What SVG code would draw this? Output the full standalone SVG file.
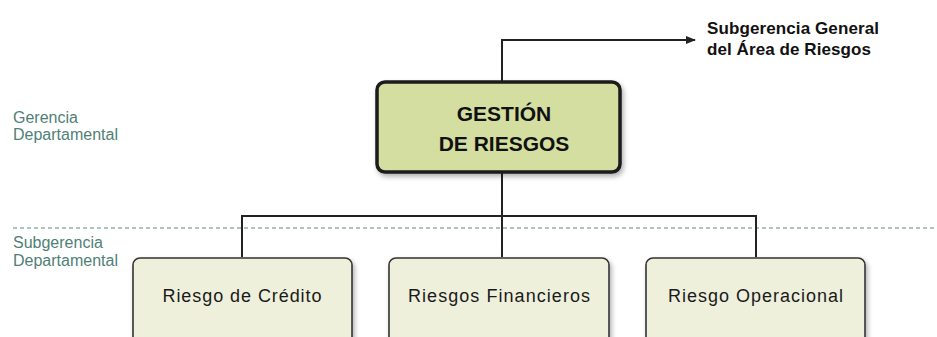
<svg xmlns="http://www.w3.org/2000/svg" width="937" height="337" viewBox="0 0 937 337">
<style>
.lvl{font-family:"Liberation Sans",Arial,sans-serif;font-size:16px;fill:#4f7f76}
.conn{fill:none;stroke:#222;stroke-width:2}
.child{fill:#eef0dc;stroke:#333;stroke-width:1.6}
.ctext{font-family:"Liberation Sans",Arial,sans-serif;font-size:18px;fill:#1a1a1a;text-anchor:middle}
.mtext{font-family:"Liberation Sans",Arial,sans-serif;font-size:21px;font-weight:bold;fill:#111;text-anchor:middle}
.stext{font-family:"Liberation Sans",Arial,sans-serif;font-size:17px;font-weight:bold;fill:#111}
</style>
<defs>
<filter id="sh" x="-10%" y="-10%" width="125%" height="130%">
<feDropShadow dx="2" dy="3" stdDeviation="2.5" flood-color="#000" flood-opacity="0.3"/>
</filter>
<marker id="arr" markerWidth="10" markerHeight="8" refX="9" refY="4" orient="auto" markerUnits="userSpaceOnUse">
<path d="M0,0 L10,4 L0,8 Z" fill="#222"/>
</marker>
</defs>
<rect width="937" height="337" fill="#fff"/>
<g id="levels">
<text class="lvl" x="13" y="123">Gerencia</text>
<text class="lvl" x="13" y="140">Departamental</text>
<line x1="13" y1="228" x2="937" y2="228" stroke="#5a8a80" stroke-width="1" stroke-dasharray="4,3"/>
<text class="lvl" x="13" y="248">Subgerencia</text>
<text class="lvl" x="13" y="266">Departamental</text>
</g>
<g id="connectors">
<path class="conn" d="M502,81 V40 H695" marker-end="url(#arr)"/>
<path class="conn" d="M502,173 V216"/>
<path class="conn" d="M242,257 V216 H756 V257"/>
<path class="conn" d="M502,216 V257"/>
</g>
<g id="subgerencia-general">
<text class="stext" x="707" y="34" textLength="172">Subgerencia General</text>
<text class="stext" x="707" y="55" textLength="164">del Área de Riesgos</text>
</g>
<g id="gestion">
<rect x="377" y="82" width="243" height="90" rx="8" fill="#d4dea0" stroke="#1a1a1a" stroke-width="3.5" filter="url(#sh)"/>
<text class="mtext" x="504" y="121">GESTIÓN</text>
<text class="mtext" x="504" y="151">DE RIESGOS</text>
</g>
<g id="credito">
<rect class="child" x="133" y="258" width="219" height="95" rx="7" filter="url(#sh)"/>
<text class="ctext" x="242" y="302" textLength="159">Riesgo de Crédito</text>
</g>
<g id="financieros">
<rect class="child" x="389" y="258" width="220" height="95" rx="7" filter="url(#sh)"/>
<text class="ctext" x="499" y="302" textLength="182">Riesgos Financieros</text>
</g>
<g id="operacional">
<rect class="child" x="646" y="258" width="219" height="95" rx="7" filter="url(#sh)"/>
<text class="ctext" x="755.5" y="302" textLength="175">Riesgo Operacional</text>
</g>
</svg>
